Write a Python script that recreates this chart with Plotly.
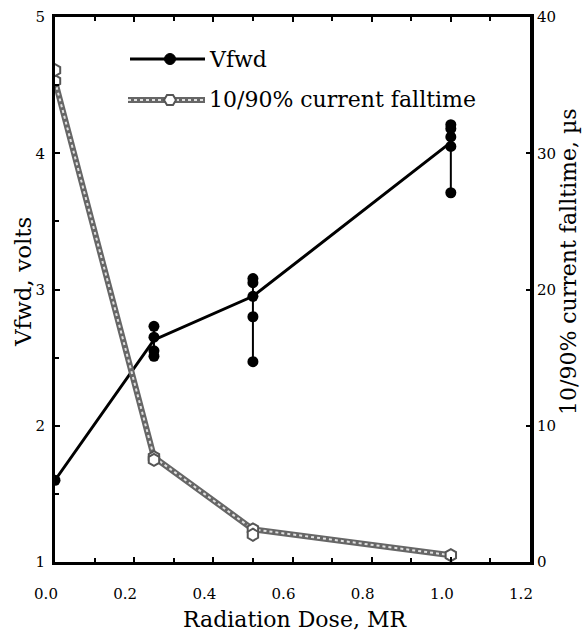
import plotly.graph_objects as go

# ---- data ----
dose = [0.0, 0.25, 0.5, 1.0]
vfwd_line = [1.6, 2.63, 2.95, 4.08]

vfwd_pt_dose = [0.0, 0.25, 0.25, 0.25, 0.25, 0.5, 0.5, 0.5, 0.5, 0.5, 1.0, 1.0, 1.0, 1.0, 1.0]
vfwd_pt_vals = [1.6, 2.73, 2.65, 2.55, 2.51, 3.08, 3.05, 2.95, 2.80, 2.47, 4.21, 4.18, 4.12, 4.05, 3.71]

falltime_line = [35.3, 7.7, 2.4, 0.5]
falltime_extra_dose = [0.0, 0.25, 0.5]
falltime_extra = [36.1, 7.5, 2.0]

x_ticks = [0.0, 0.2, 0.4, 0.6, 0.8, 1.0, 1.2]

FONT = "DejaVu Serif"
W, H = 583, 634
ML, MR, MT, MB = 55, 53, 17, 72
PW, PH = W - ML - MR, H - MT - MB

fig = go.Figure()

# falltime line (textured look: dark base + light dotted core)
fig.add_trace(go.Scatter(x=dose, y=falltime_line, yaxis="y2", mode="lines",
                         line=dict(color="#666666", width=6), showlegend=False, hoverinfo="skip"))
fig.add_trace(go.Scatter(x=dose, y=falltime_line, yaxis="y2", mode="lines",
                         line=dict(color="#e0e0e0", width=2, dash="dot"), showlegend=False, hoverinfo="skip"))
fig.add_trace(go.Scatter(x=dose + falltime_extra_dose, y=falltime_line + falltime_extra, yaxis="y2",
                         mode="markers",
                         marker=dict(symbol="hexagon", size=12, color="white",
                                     line=dict(color="#555555", width=2)),
                         showlegend=False))

# Vfwd vertical spreads
for d in dose:
    vals = [v for dd, v in zip(vfwd_pt_dose, vfwd_pt_vals) if dd == d]
    if len(vals) > 1:
        fig.add_trace(go.Scatter(x=[d, d], y=[min(vals), max(vals)], mode="lines",
                                 line=dict(color="black", width=2), showlegend=False, hoverinfo="skip"))
fig.add_trace(go.Scatter(x=dose, y=vfwd_line, mode="lines",
                         line=dict(color="black", width=3), showlegend=False))
fig.add_trace(go.Scatter(x=vfwd_pt_dose, y=vfwd_pt_vals, mode="markers",
                         marker=dict(symbol="circle", size=11, color="black"), showlegend=False))

# ---- manual legend & titles (pixel -> paper helpers) ----
def px(x):
    return (x - ML) / PW

def py(y):
    return (H - MB - y) / PH

shapes = []
shapes.append(dict(type="line", xref="paper", yref="paper", x0=px(130), x1=px(205), y0=py(59), y1=py(59),
                   line=dict(color="black", width=3)))
shapes.append(dict(type="circle", xref="paper", yref="paper", xsizemode="pixel", ysizemode="pixel",
                   xanchor=px(170), yanchor=py(59), x0=-5.5, x1=5.5, y0=-5.5, y1=5.5,
                   fillcolor="black", line=dict(color="black", width=1)))
shapes.append(dict(type="line", xref="paper", yref="paper", x0=px(128), x1=px(205), y0=py(100), y1=py(100),
                   line=dict(color="#666666", width=6)))
shapes.append(dict(type="line", xref="paper", yref="paper", x0=px(128), x1=px(205), y0=py(100), y1=py(100),
                   line=dict(color="#e0e0e0", width=2, dash="dot")))
hexpath = "M -6,0 L -3,5 L 3,5 L 6,0 L 3,-5 L -3,-5 Z"
shapes.append(dict(type="path", xref="paper", yref="paper", xsizemode="pixel", ysizemode="pixel",
                   xanchor=px(170), yanchor=py(100), path=hexpath,
                   fillcolor="white", line=dict(color="#555555", width=2)))

annotations = [
    dict(text="Vfwd", xref="paper", yref="paper", x=px(207), y=py(59), xanchor="left", yanchor="middle",
         showarrow=False, font=dict(family=FONT, size=22, color="black")),
    dict(text="10/90% current falltime", xref="paper", yref="paper", x=px(207), y=py(100),
         xanchor="left", yanchor="middle", showarrow=False, font=dict(family=FONT, size=22, color="black")),
    dict(text="Radiation Dose, MR", xref="paper", yref="paper", x=px(295), y=py(619),
         xanchor="center", yanchor="middle", showarrow=False, font=dict(family=FONT, size=22, color="black")),
    dict(text="Vfwd, volts", xref="paper", yref="paper", x=px(23), y=py(282), textangle=-90,
         xanchor="center", yanchor="middle", showarrow=False, font=dict(family=FONT, size=23, color="black")),
    dict(text="10/90% current falltime, µs", xref="paper", yref="paper", x=px(568), y=py(262), textangle=-90,
         xanchor="center", yanchor="middle", showarrow=False, font=dict(family=FONT, size=22, color="black")),
]

fig.update_layout(
    width=W, height=H,
    margin=dict(l=ML, r=MR, t=MT, b=MB),
    plot_bgcolor="white", paper_bgcolor="white",
    font=dict(family=FONT, color="black", size=15),
    showlegend=False,
    shapes=shapes, annotations=annotations,
    xaxis=dict(range=[0, 1.2], tickvals=x_ticks, ticktext=[f"{t:.1f}" for t in x_ticks],
               ticks="inside", ticklen=5, tickwidth=2, tickcolor="black",
               showline=True, linewidth=3, linecolor="black", mirror="ticks",
               showgrid=False, zeroline=False, ticklabelshift=-9, ticklabelstandoff=16,
               automargin=False,
               minor=dict(dtick=0.1, ticks="inside", ticklen=4, tickcolor="black", tickwidth=1.5)),
    yaxis=dict(range=[1, 5], dtick=1, ticks="inside", ticklen=5, tickwidth=2, tickcolor="black",
               showline=True, linewidth=3, linecolor="black", ticklabelstandoff=4,
               showgrid=False, zeroline=False, automargin=False,
               minor=dict(dtick=0.5, ticks="inside", ticklen=4, tickcolor="black", tickwidth=1.5)),
    yaxis2=dict(range=[0, 40], dtick=10, overlaying="y", side="right",
                ticks="inside", ticklen=4, tickwidth=2, tickcolor="black", ticklabelstandoff=0,
                showline=True, linewidth=4, linecolor="black",
                showgrid=False, zeroline=False, automargin=False),
)

fig.write_html("out.html", config={"displayModeBar": False},
               post_script="document.body.style.margin='0px';")
